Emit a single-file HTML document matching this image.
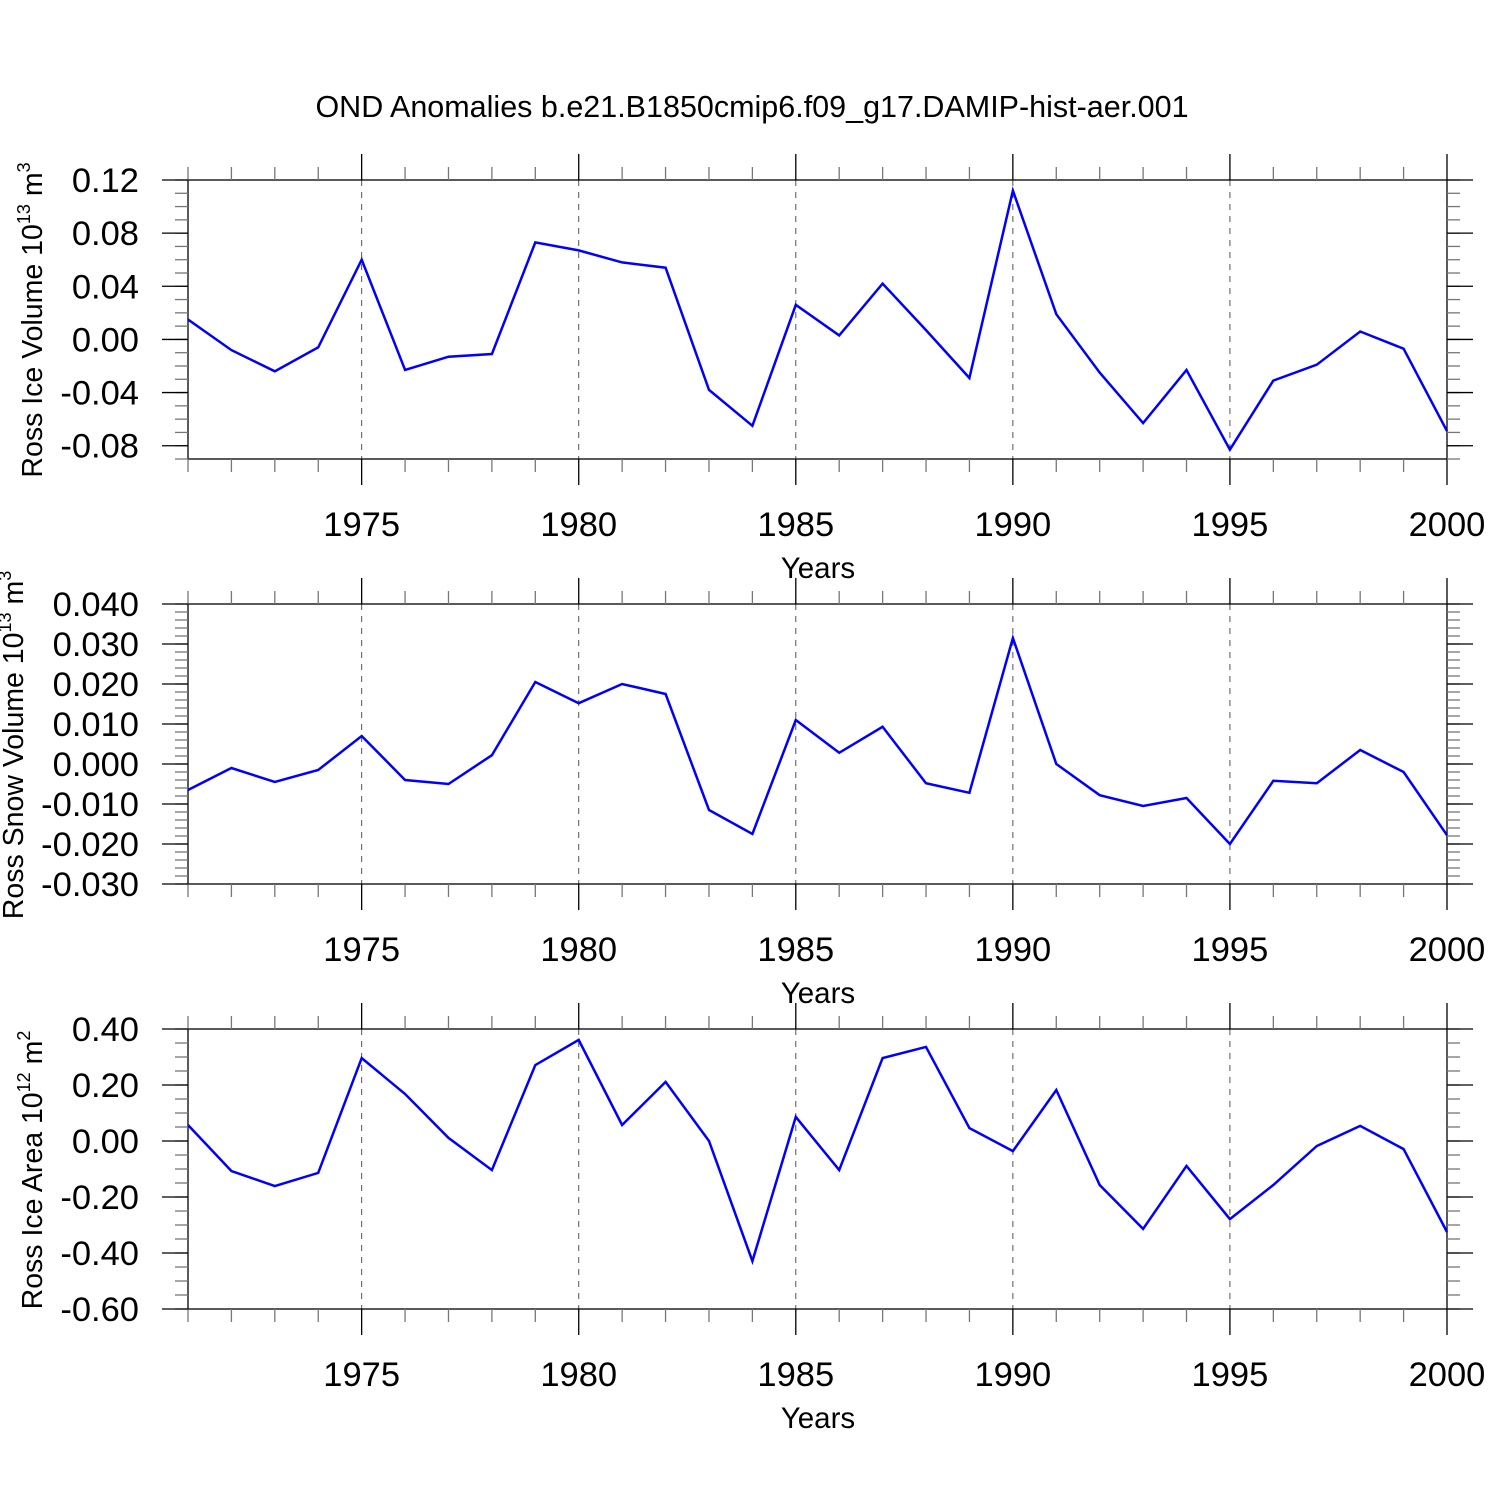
<!DOCTYPE html>
<html><head><meta charset="utf-8"><style>
html,body{margin:0;padding:0;background:#fff}
svg{display:block;font-family:"Liberation Sans",sans-serif}
</style></head><body>
<svg id="chart" width="1500" height="1500" viewBox="0 0 1500 1500" xmlns="http://www.w3.org/2000/svg">
<text x="752" y="117" font-size="30.5" text-anchor="middle">OND Anomalies b.e21.B1850cmip6.f09_g17.DAMIP-hist-aer.001</text>
</svg>
<script>
const years = [1971,1972,1973,1974,1975,1976,1977,1978,1979,1980,1981,1982,1983,1984,1985,1986,1987,1988,1989,1990,1991,1992,1993,1994,1995,1996,1997,1998,1999,2000];
const xTickLabels = [1975,1980,1985,1990,1995,2000];
const iceVolume = [0.015,-0.008,-0.024,-0.006,0.060,-0.023,-0.013,-0.011,0.073,0.067,0.058,0.054,-0.038,-0.065,0.026,0.003,0.042,0.007,-0.029,0.112,0.019,-0.025,-0.063,-0.023,-0.083,-0.031,-0.019,0.006,-0.007,-0.069];
const snowVolume = [-0.0065,-0.001,-0.0045,-0.0015,0.007,-0.004,-0.005,0.0022,0.0205,0.0152,0.020,0.0175,-0.0115,-0.0175,0.011,0.0028,0.0093,-0.0048,-0.0072,0.0315,0.0,-0.0078,-0.0105,-0.0085,-0.020,-0.0042,-0.0048,0.0035,-0.002,-0.0178];
const iceArea = [0.057,-0.107,-0.161,-0.114,0.296,0.168,0.011,-0.104,0.271,0.361,0.057,0.211,0.0,-0.429,0.086,-0.104,0.296,0.336,0.046,-0.036,0.182,-0.157,-0.314,-0.089,-0.279,-0.157,-0.018,0.054,-0.029,-0.325];
const iceVolTicks = [0.12,0.08,0.04,0.00,-0.04,-0.08];
const snowTicks = [0.040,0.030,0.020,0.010,0.000,-0.010,-0.020,-0.030];
const areaTicks = [0.40,0.20,0.00,-0.20,-0.40,-0.60];

const NS="http://www.w3.org/2000/svg";
const svg=document.getElementById('chart');
const X0=188,X1=1447;
function xs(yr){return X0+(yr-1971)*(X1-X0)/(2000-1971);}
function mk(tag,attrs,parent){const e=document.createElementNS(NS,tag);for(const k in attrs)e.setAttribute(k,attrs[k]);(parent||svg).appendChild(e);return e;}

const panels=[
 {name:'ice-volume',top:180,bot:459,ymin:-0.09,ymax:0.12,ticks:iceVolTicks,dec:2,minor:0.01,data:iceVolume,title:'Ross Ice Volume 10',sup:'13',unit:' m',usup:'3',tcy:320,tx:42},
 {name:'snow-volume',top:604,bot:884,ymin:-0.03,ymax:0.04,ticks:snowTicks,dec:3,minor:0.002,data:snowVolume,title:'Ross Snow Volume 10',sup:'13',unit:' m',usup:'3',tcy:745,tx:23},
 {name:'ice-area',top:1029,bot:1309,ymin:-0.6,ymax:0.4,ticks:areaTicks,dec:2,minor:0.05,data:iceArea,title:'Ross Ice Area 10',sup:'12',unit:' m',usup:'2',tcy:1170,tx:42}
];
panels.forEach(p=>{
 const g=mk('g',{});
 
 
 const ys=v=>p.bot-(v-p.ymin)*(p.bot-p.top)/(p.ymax-p.ymin);
 xTickLabels.slice(0,5).forEach(yr=>{
  const l=mk('line',{x1:xs(yr),x2:xs(yr),y1:p.top,y2:p.bot,stroke:'#555','stroke-width':1,'stroke-dasharray':'6,6'},g);
  
  
 });
 const fr=mk('rect',{x:X0,y:p.top,width:X1-X0,height:p.bot-p.top,fill:'none',stroke:'#000','stroke-width':1.3},g);
 
 
 years.forEach(yr=>{
  const major=yr%5===0, len=major?26:13, x=xs(yr);
  mk('line',{x1:x,x2:x,y1:p.top,y2:p.top-len,stroke:major?'#000':'#777','stroke-width':1.3},g);
  mk('line',{x1:x,x2:x,y1:p.bot,y2:p.bot+len,stroke:major?'#000':'#777','stroke-width':1.3},g);
 });
 xTickLabels.forEach(yr=>{
  const t=mk('text',{x:xs(yr),y:p.bot+77,'font-size':34.5,'text-anchor':'middle'},g);
  
  
  t.textContent=yr;
 });
 const xt=mk('text',{x:818,y:p.bot+119,'font-size':29.5,'text-anchor':'middle'},g);
 
 
 xt.textContent='Years';
 const n=Math.round((p.ymax-p.ymin)/p.minor);
 for(let i=0;i<=n;i++){
  const y=ys(p.ymin+i*p.minor);
  mk('line',{x1:X0,x2:X0-13,y1:y,y2:y,stroke:'#777','stroke-width':1.3},g);
  mk('line',{x1:X1,x2:X1+13,y1:y,y2:y,stroke:'#777','stroke-width':1.3},g);
 }
 p.ticks.forEach(v=>{
  const y=ys(v);
  mk('line',{x1:X0,x2:X0-26,y1:y,y2:y,stroke:'#000','stroke-width':1.3},g);
  mk('line',{x1:X1,x2:X1+26,y1:y,y2:y,stroke:'#000','stroke-width':1.3},g);
  const t=mk('text',{x:139,y:y+12,'font-size':34.5,'text-anchor':'end'},g);
  
  
  t.textContent=v.toFixed(p.dec);
 });
 const yt=mk('text',{transform:`translate(${p.tx},${p.tcy}) rotate(-90)`,'font-size':28.5,'text-anchor':'middle'},g);
 
 
 const s1=mk('tspan',{},yt);s1.textContent=p.title;
 const s2=mk('tspan',{dy:-12,'font-size':18},yt);s2.textContent=p.sup;
 const s3=mk('tspan',{dy:12},yt);s3.textContent=p.unit;
 const s4=mk('tspan',{dy:-12,'font-size':18},yt);s4.textContent=p.usup;
 const pts=years.map((yr,i)=>xs(yr).toFixed(1)+','+ys(p.data[i]).toFixed(1)).join(' ');
 const pl=mk('polyline',{points:pts,fill:'none',stroke:'#0000ff','stroke-width':2.5,'stroke-linejoin':'miter'},g);
 
 
});
</script>
</body></html>
